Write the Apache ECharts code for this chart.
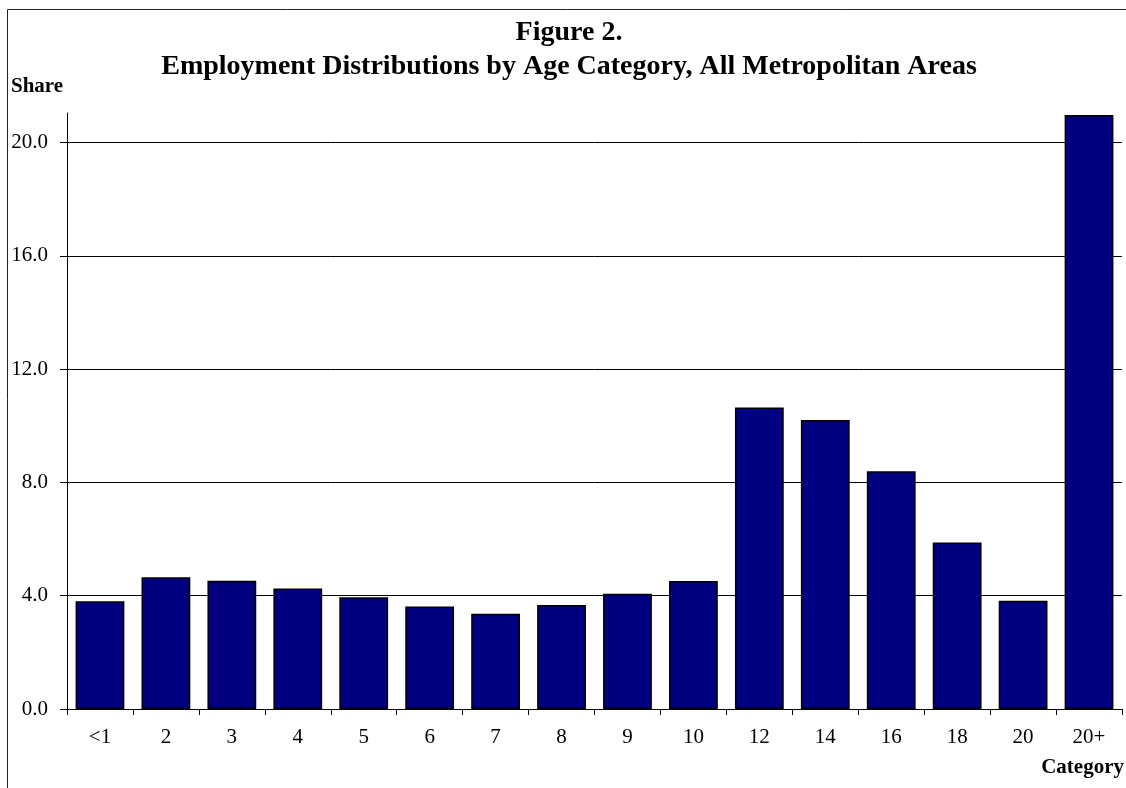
<!DOCTYPE html>
<html>
    <head>
        <meta charset="utf-8">
        <script src="https://cdn.jsdelivr.net/npm/echarts@6/dist/echarts.min.js"></script>
    </head>
    <body>
        <style>
            html, body, #main {
                width: 100%;
                height: 100%;
                margin: 0;
                background: #fff;
            }
        </style>
        <div id="main"></div>
        <script>

            var categories = ['<1', '2', '3', '4', '5', '6', '7', '8', '9', '10', '12', '14', '16', '18', '20', '20+'];
            var shares = [3.81, 4.65, 4.53, 4.26, 3.95, 3.62, 3.36, 3.67, 4.07, 4.52, 10.65, 10.21, 8.40, 5.88, 3.82, 20.98];

            var titleLine1 = 'Figure 2.';
            var titleLine2 = 'Employment Distributions by Age Category, All Metropolitan Areas';

            var serif = '"Liberation Serif", "Times New Roman", serif';

            var chart = echarts.init(document.getElementById('main'));

            chart.setOption({
                animation: false,
                backgroundColor: '#fff',
                grid: {
                    left: 67,
                    right: 4,
                    top: 113,
                    bottom: 79
                },
                graphic: [{
                    // outer frame, cut off at right and bottom like the scan
                    type: 'rect',
                    shape: { x: 7.5, y: 9.5, width: 1200, height: 900 },
                    style: { fill: 'none', stroke: '#222', lineWidth: 1 }
                }, {
                    type: 'text',
                    x: 569,
                    y: 33,
                    style: {
                        text: titleLine1,
                        font: 'bold 28px ' + serif,
                        fill: '#000',
                        textAlign: 'center',
                        textVerticalAlign: 'middle'
                    }
                }, {
                    type: 'text',
                    x: 569,
                    y: 67,
                    style: {
                        text: titleLine2,
                        font: 'bold 28px ' + serif,
                        fill: '#000',
                        textAlign: 'center',
                        textVerticalAlign: 'middle'
                    }
                }, {
                    type: 'text',
                    x: 11,
                    y: 87,
                    style: {
                        text: 'Share',
                        font: 'bold 21px ' + serif,
                        fill: '#000',
                        textAlign: 'left',
                        textVerticalAlign: 'middle'
                    }
                }, {
                    type: 'text',
                    x: 1124,
                    y: 768,
                    style: {
                        text: 'Category',
                        font: 'bold 21px ' + serif,
                        fill: '#000',
                        textAlign: 'right',
                        textVerticalAlign: 'middle'
                    }
                }],
                xAxis: {
                    type: 'category',
                    data: categories,
                    axisLine: { lineStyle: { color: '#000', width: 1 } },
                    axisTick: { show: true, length: 6, lineStyle: { color: '#000' } },
                    axisLabel: {
                        color: '#000',
                        fontFamily: serif,
                        fontSize: 21,
                        margin: 18
                    },
                    splitLine: { show: false }
                },
                yAxis: {
                    type: 'value',
                    min: 0,
                    max: 21.05,
                    interval: 4,
                    axisLine: { show: true, lineStyle: { color: '#000', width: 1 } },
                    axisTick: { show: true, length: 7, lineStyle: { color: '#000' } },
                    axisLabel: {
                        color: '#000',
                        fontFamily: serif,
                        fontSize: 21,
                        margin: 19,
                        showMaxLabel: false,
                        formatter: function (v) {
                            return v.toFixed(1);
                        }
                    },
                    splitLine: {
                        show: true,
                        showMaxLine: false,
                        lineStyle: { color: '#000', width: 1 }
                    }
                },
                series: [{
                    type: 'bar',
                    data: shares,
                    barCategoryGap: '26%',
                    itemStyle: {
                        color: '#000080',
                        borderColor: '#000',
                        borderWidth: 1.5
                    }
                }]
            });

        </script>
    </body>
</html>
